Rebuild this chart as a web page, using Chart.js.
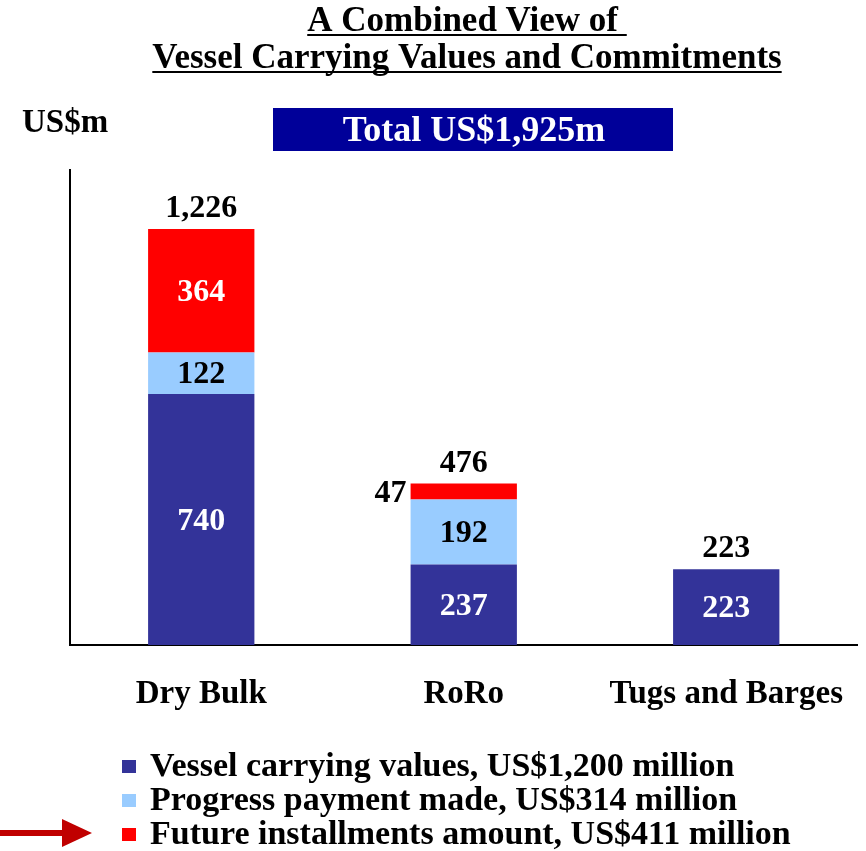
<!DOCTYPE html>
<html lang="en">
<head>
  <meta charset="UTF-8">
  <title>Vessel Carrying Values and Commitments</title>
  <script src="https://cdn.jsdelivr.net/npm/chart.js"></script>
  <style>
    html, body { margin: 0; padding: 0; background: #fff; }
    #wrap { width: 866px; height: 851px; position: relative; }
  </style>
</head>
<body>
  <div id="wrap"><canvas id="grafica" width="866" height="851"></canvas></div>

  <script>
    const categories = ['Dry Bulk', 'RoRo', 'Tugs and Barges'];
    const carrying = [740, 237, 223];
    const progress = [122, 192, null];
    const future = [364, 47, null];
    const seriesNames = [
      'Vessel carrying values, US$1,200 million',
      'Progress payment made, US$314 million',
      'Future installments amount, US$411 million'
    ];
    const titleLines = ['A Combined View of ', 'Vessel Carrying Values and Commitments'];
    const unitLabel = 'US$m';
    const totalLabel = 'Total US$1,925m';

    const SERIF = '"Liberation Serif", "Times New Roman", serif';
    const colors = ['#333399', '#99CCFF', '#FF0000'];
    const labelColors = ['#FFFFFF', '#000000', '#FFFFFF'];

    // labels inside the segments and totals on top
    const valueLabels = {
      id: 'valueLabels',
      afterDatasetsDraw(chart) {
        const ctx = chart.ctx;
        ctx.save();
        ctx.font = 'bold 32px ' + SERIF;
        ctx.textBaseline = 'middle';
        chart.data.datasets.forEach((ds, di) => {
          chart.getDatasetMeta(di).data.forEach((el, i) => {
            const v = ds.data[i];
            if (v == null) return;
            const top = Math.min(el.y, el.base), bot = Math.max(el.y, el.base);
            const cy = (top + bot) / 2 + 2;
            if (bot - top < 24) {
              ctx.fillStyle = '#000';
              ctx.textAlign = 'right';
              ctx.fillText(v, el.x - el.width / 2 - 4, cy);
            } else {
              ctx.fillStyle = labelColors[di];
              ctx.textAlign = 'center';
              ctx.fillText(v, el.x, cy);
            }
          });
        });
        // totals
        ctx.fillStyle = '#000';
        ctx.textAlign = 'center';
        ctx.textBaseline = 'alphabetic';
        categories.forEach((c, i) => {
          let sum = 0, topY = Infinity, x = 0;
          chart.data.datasets.forEach((ds, di) => {
            const v = ds.data[i];
            if (v == null) return;
            sum += v;
            const el = chart.getDatasetMeta(di).data[i];
            topY = Math.min(topY, el.y);
            x = el.x;
          });
          ctx.fillText(sum.toLocaleString('en-US'), x, topY - 12);
        });
        ctx.restore();
      }
    };

    // title, unit, total box, legend and arrow
    const decorations = {
      id: 'decorations',
      afterDraw(chart) {
        const ctx = chart.ctx;
        ctx.save();
        ctx.fillStyle = '#000';
        ctx.strokeStyle = '#000';
        ctx.font = 'bold 35px ' + SERIF;
        ctx.textAlign = 'center';
        ctx.textBaseline = 'alphabetic';
        const tx = 467;
        [31, 68].forEach((y, k) => {
          const t = titleLines[k];
          ctx.fillText(t, tx, y);
          const w = ctx.measureText(t).width;
          ctx.lineWidth = 2;
          ctx.beginPath();
          ctx.moveTo(tx - w / 2, y + 4);
          ctx.lineTo(tx + w / 2, y + 4);
          ctx.stroke();
        });

        ctx.textAlign = 'left';
        ctx.font = 'bold 33px ' + SERIF;
        ctx.fillText(unitLabel, 22, 132);

        ctx.fillStyle = '#000099';
        ctx.fillRect(273, 108, 400, 43);
        ctx.fillStyle = '#fff';
        ctx.textAlign = 'center';
        ctx.font = 'bold 36px ' + SERIF;
        ctx.fillText(totalLabel, 474, 141);

        // legend
        ctx.textAlign = 'left';
        ctx.font = 'bold 34px ' + SERIF;
        seriesNames.forEach((name, k) => {
          const y = 776 + k * 34;
          ctx.fillStyle = colors[k];
          ctx.fillRect(122, y - 16, 14, 13);
          ctx.fillStyle = '#000';
          ctx.fillText(name, 150, y);
        });

        // arrow pointing at the last legend row
        ctx.fillStyle = '#C00000';
        ctx.fillRect(0, 830, 66, 6);
        ctx.beginPath();
        ctx.moveTo(62, 819);
        ctx.lineTo(92, 833);
        ctx.lineTo(62, 847);
        ctx.closePath();
        ctx.fill();
        ctx.restore();
      }
    };

    const ctx = document.getElementById('grafica').getContext('2d');
    new Chart(ctx, {
      type: 'bar',
      data: {
        labels: categories,
        datasets: [carrying, progress, future].map((d, k) => ({
          label: seriesNames[k],
          data: d,
          backgroundColor: colors[k],
          borderWidth: 0,
          barPercentage: 0.405,
          categoryPercentage: 1
        }))
      },
      options: {
        responsive: false,
        animation: false,
        layout: { padding: { top: 170, left: 70, right: 6, bottom: 0 } },
        plugins: {
          legend: { display: false },
          title: { display: false },
          tooltip: { enabled: false }
        },
        scales: {
          x: {
            stacked: true,
            grid: { display: false },
            border: { display: true, color: '#000', width: 2 },
            ticks: {
              color: '#000',
              padding: 22,
              font: { family: SERIF, size: 33, weight: 'bold' }
            },
            afterFit: s => { s.height = 206; }
          },
          y: {
            stacked: true,
            min: 0,
            max: 1400,
            grid: { display: false },
            border: { display: true, color: '#000', width: 2 },
            ticks: { display: false },
            afterFit: s => { s.width = 0; }
          }
        }
      },
      plugins: [valueLabels, decorations]
    });
  </script>
</body>
</html>
